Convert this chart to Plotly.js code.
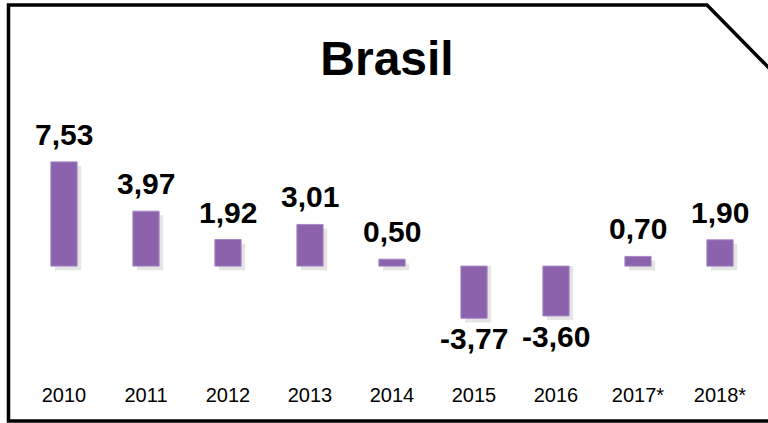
<!DOCTYPE html>
<html>
<head>
<meta charset="utf-8">
<script src="https://cdn.plot.ly/plotly-3.0.1.min.js"></script>
<style>html,body{margin:0;padding:0;background:#fff;}#chart{width:768px;height:423px;}</style>
</head>
<body>
<div id="chart"></div>
<script>
const years = ["2010","2011","2012","2013","2014","2015","2016","2017*","2018*"];
const growth = [7.53, 3.97, 1.92, 3.01, 0.50, -3.77, -3.60, 0.70, 1.90];
const valueLabels = ["7,53","3,97","1,92","3,01","0,50","-3,77","-3,60","0,70","1,90"];
const chartTitle = "Brasil";

const W = 768, H = 423;
const mL = 23, mR = 7, mT = 100, mB = 42;
const yMin = -8.3, yMax = 12;
const pw = W - mL - mR, ph = H - mT - mB;
function px(x){ return (x - mL) / pw; }
function py(y){ return (H - mB - y) / ph; }

const idx = years.map((_, i) => i);
const barColor = '#8b62ab';

const shadow = {
  type: 'bar', x: idx.map(i => i + 0.05),
  y: growth.map(v => v < 0 ? v - 0.3 : v),
  base: growth.map(v => v < 0 ? 0 : -0.3),
  width: 0.32,
  marker: {color: 'rgba(0,0,0,0.10)'},
  hoverinfo: 'skip', showlegend: false
};
const bars = {
  type: 'bar', x: idx, y: growth,
  width: 0.32,
  marker: {color: barColor, line: {color: '#a688c4', width: 1}},
  showlegend: false
};

const annotations = idx.map(i => ({
  x: i, y: growth[i], xref: 'x', yref: 'y',
  text: '<b>' + valueLabels[i] + '</b>',
  showarrow: false,
  xanchor: 'center',
  yanchor: growth[i] >= 0 ? 'bottom' : 'top',
  yshift: growth[i] >= 0 ? 9 : -2,
  font: {family: 'Arial, Liberation Sans, sans-serif', size: 30, color: '#000'}
}));

const framePath = 'M ' + px(770) + ' ' + py(421) +
  ' L ' + px(8.5) + ' ' + py(421) +
  ' L ' + px(8.5) + ' ' + py(5) +
  ' L ' + px(707) + ' ' + py(5) +
  ' L ' + px(771) + ' ' + py(70);

const layout = {
  width: W, height: H,
  margin: {l: mL, r: mR, t: mT, b: mB, pad: 0},
  paper_bgcolor: '#fff', plot_bgcolor: 'rgba(0,0,0,0)',
  barmode: 'overlay',
  title: {
    text: '<b>' + chartTitle + '</b>',
    x: 387 / W, xanchor: 'center', xref: 'container',
    y: 1 - 58 / H, yanchor: 'middle', yref: 'container',
    font: {family: 'Arial, Liberation Sans, sans-serif', size: 48, color: '#000'}
  },
  xaxis: {
    range: [-0.5, 8.5], tickvals: idx, ticktext: years,
    showgrid: false, zeroline: false, showline: false,
    ticks: '', ticklabelstandoff: 0,
    tickfont: {family: 'Arial, Liberation Sans, sans-serif', size: 20, color: '#000'}
  },
  yaxis: {
    range: [yMin, yMax], showgrid: false, zeroline: false, showline: false,
    showticklabels: false, ticks: ''
  },
  annotations: annotations,
  shapes: [{
    type: 'path', xref: 'paper', yref: 'paper', path: framePath,
    line: {color: '#000', width: 3.5}, fillcolor: 'rgba(0,0,0,0)', layer: 'above'
  }]
};

Plotly.newPlot('chart', [shadow, bars], layout, {displayModeBar: false, staticPlot: true});
</script>
</body>
</html>
